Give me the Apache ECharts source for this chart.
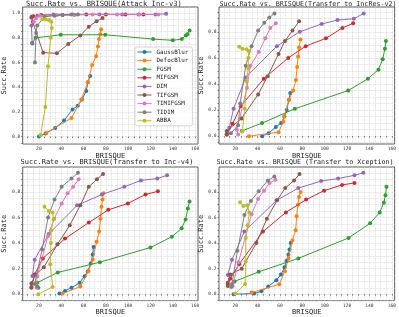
<!DOCTYPE html>
<html><head><meta charset="utf-8">
<script src="https://cdn.jsdelivr.net/npm/echarts@6/dist/echarts.min.js"></script>
<style>html,body{margin:0;padding:0;background:#fff}#c{width:399px;height:317px}</style>
</head><body><div id="c"></div>
<script>
const methods = ['GaussBlur','DefocBlur','FGSM','MIFGSM','DIM','TIFGSM','TIMIFGSM','TIDIM','ABBA'];
const colors = ['#1f77b4','#ff7f0e','#2ca02c','#d62728','#9467bd','#8c564b','#e377c2','#7f7f7f','#bcbd22'];
const titles = ['Succ.Rate vs. BRISQUE(Attack Inc-v3)','Succ.Rate vs. BRISQUE(Transfer to IncRes-v2)','Succ.Rate vs. BRISQUE(Transfer to Inc-v4)','Succ.Rate vs. BRISQUE (Transfer to Xception)'];
const xTickVals = [10,15,20,25,30,35,40,45,50,55,60,65,70,75,80,85,90,95,100,105,110,115,120,125,130,135,140,145,150,155,160];
const xLabelVals = [20,40,60,80,100,120,140,160];
const yTickVals = [-0.05,0,0.05,0.1,0.15,0.2,0.25,0.3,0.35,0.4,0.45,0.5,0.55,0.6,0.65,0.7,0.75,0.8,0.85,0.9,0.95,1.0];
const yLabelVals = [0,0.2,0.4,0.6,0.8,1.0];

// Panel 1: Attack Inc-v3
const v3_GaussBlur = [[20,0.0],[26,0.025],[34.6,0.07],[42.5,0.13],[50.1,0.22],[54.8,0.25],[58.6,0.30],[62.4,0.37],[63.9,0.44],[65.9,0.49]];
const v3_DefocBlur = [[26.7,0.03],[49.2,0.15],[58,0.30],[63.9,0.44],[67.7,0.58],[71.2,0.65],[72.9,0.73],[73.8,0.79],[75,0.83],[75.8,0.87]];
const v3_FGSM = [[14.2,0.755],[17.1,0.80],[39.6,0.825],[79.4,0.825],[122.3,0.79],[139.9,0.78],[148,0.79],[151.6,0.82],[153,0.83],[155,0.86]];
const v3_MIFGSM = [[13.3,0.965],[15,0.975],[22,0.985],[41.3,0.985],[62.4,0.99],[80,0.99],[97.5,0.99],[113.6,0.99]];
const v3_DIM = [[14,0.76],[13.3,0.90],[18.5,0.98],[33,0.99],[50.7,0.99],[74.1,0.99],[94.6,0.99],[109.2,0.99],[124.4,0.99],[134,0.995]];
const v3_TIFGSM = [[13.5,0.97],[14.5,0.93],[23.8,0.68],[36.1,0.675],[46.3,0.75],[57.1,0.82],[64.7,0.89],[71.7,0.935],[77,0.96]];
const v3_TIMIFGSM = [[15.5,0.93],[17.5,0.96],[21,0.98],[36,0.985],[52,0.985],[68,0.99],[90,0.99],[110,0.99],[127,0.99]];
const v3_TIDIM = [[16.5,0.60],[17.5,0.84],[18.5,0.90],[25,0.97],[34,0.98],[41,0.985],[49,0.99],[55,0.99]];
const v3_ABBA = [[21.5,0.01],[25.8,0.24],[28.2,0.57],[30.5,0.80],[31.5,0.88],[31,0.93],[29,0.945],[26,0.95],[23,0.95]];

// Panel 2: Transfer to IncRes-v2
const v2_GaussBlur = [[44,0.0],[49.9,0.023],[56.3,0.07],[61,0.10],[63.9,0.15],[66,0.2],[68,0.28],[69.2,0.33]];
const v2_DefocBlur = [[32.3,0.0],[58.7,0.03],[63,0.11],[63.9,0.15],[68,0.28],[71.8,0.35],[74.2,0.43],[75.3,0.53],[76.2,0.61],[77.1,0.68],[78.3,0.74]];
const v2_FGSM = [[25.9,0.04],[44,0.10],[73.3,0.21],[121,0.35],[138.6,0.44],[148,0.51],[151.8,0.59],[153.8,0.67],[154.7,0.73]];
const v2_MIFGSM = [[12.4,0.013],[17.7,0.096],[25,0.23],[45.5,0.44],[67.4,0.60],[83,0.69],[101.1,0.75],[115.8,0.83],[125.4,0.865]];
const v2_DIM = [[13.3,0.023],[14.7,0.065],[18.5,0.21],[29.4,0.45],[57.2,0.69],[77.7,0.80],[97.3,0.86],[111.4,0.89],[126,0.90],[134.8,0.94]];
const v2_TIFGSM = [[12.4,0.013],[12.4,0.04],[25.6,0.135],[40.5,0.32],[49,0.46],[58.7,0.63],[64.5,0.73],[71.2,0.81],[77.1,0.88]];
const v2_TIMIFGSM = [[22.6,0.013],[21.5,0.05],[30.5,0.37],[33.5,0.54],[41.1,0.645],[46.9,0.75],[51.3,0.83],[56.3,0.865]];
const v2_TIDIM = [[16.2,0.023],[22.6,0.083],[24.4,0.25],[29.4,0.54],[34.6,0.69],[40.5,0.81],[46,0.87],[50.5,0.91],[55.1,0.94]];
const v2_ABBA = [[26.4,0.036],[28.5,0.21],[30.2,0.42],[31.7,0.52],[31.7,0.60],[32.3,0.65],[30.2,0.666],[26.4,0.67],[23.5,0.685]];

// Panel 3: Transfer to Inc-v4
const v4_GaussBlur = [[38.4,0.005],[43.4,0.026],[49.2,0.05],[56.5,0.09],[60.9,0.14],[63.8,0.18],[66.4,0.24],[68.2,0.31],[69,0.37]];
const v4_DefocBlur = [[41.3,0.005],[57.1,0.06],[64.4,0.18],[68.2,0.27],[71.7,0.41],[74,0.49],[75.2,0.59],[76.1,0.685],[77,0.74],[77.8,0.79]];
const v4_FGSM = [[19.5,0.05],[18.5,0.09],[36.9,0.17],[74.6,0.25],[119.9,0.365],[139.1,0.45],[147.9,0.515],[151.4,0.585],[153.4,0.67],[154.9,0.725]];
const v4_MIFGSM = [[13.3,0.05],[16.2,0.155],[23.5,0.28],[43.4,0.435],[64.7,0.56],[82.2,0.66],[99.7,0.71],[115.5,0.78],[126.6,0.805]];
const v4_DIM = [[14.2,0.143],[16.2,0.27],[28.8,0.47],[54.2,0.695],[76.4,0.78],[96.5,0.84],[111.4,0.89],[126,0.905],[134.8,0.93]];
const v4_TIFGSM = [[13.3,0.057],[13.3,0.085],[17.1,0.155],[24.4,0.21],[36.6,0.39],[47.7,0.54],[57.1,0.695],[64.7,0.84],[72,0.90],[77.5,0.94]];
const v4_TIMIFGSM = [[18,0.05],[18.5,0.14],[28.2,0.456],[33.7,0.59],[40.4,0.71],[45.7,0.79],[50.7,0.84],[55.6,0.90]];
const v4_TIDIM = [[18.5,0.06],[16.2,0.08],[22.9,0.35],[28.2,0.60],[34,0.74],[40.4,0.84],[49.2,0.905],[55,0.95]];
const v4_ABBA = [[19.4,0.0],[32.3,0.057],[30.2,0.235],[30.8,0.40],[31.1,0.50],[33.1,0.586],[32.3,0.64],[28.8,0.65],[25,0.685]];

// Panel 4: Transfer to Xception
const xc_GaussBlur = [[18.5,0.0],[36.9,0.005],[43.4,0.023],[49.5,0.06],[56.8,0.11],[60.9,0.155],[64.1,0.21],[65.8,0.26],[67.6,0.31],[68.5,0.35],[69.6,0.40]];
const xc_DefocBlur = [[34.6,0.013],[59.4,0.078],[64.4,0.18],[67.6,0.28],[71.1,0.42],[74,0.50],[74.9,0.61],[76.1,0.70],[77,0.76],[78.4,0.80]];
const xc_FGSM = [[19.4,0.10],[41,0.175],[76.4,0.28],[121.3,0.44],[140.6,0.555],[149.1,0.64],[152.8,0.715],[154.3,0.775],[155.2,0.84]];
const xc_MIFGSM = [[13.3,0.073],[15.5,0.12],[23.5,0.235],[44.8,0.49],[65.3,0.64],[83.4,0.74],[99.4,0.81],[115.5,0.855],[126.6,0.87]];
const xc_DIM = [[13.3,0.15],[17.1,0.27],[28.2,0.49],[57.1,0.735],[76.4,0.83],[96.8,0.885],[112,0.905],[126.6,0.93],[134.5,0.95]];
const xc_TIFGSM = [[13.3,0.065],[13.3,0.09],[15.6,0.155],[25.8,0.20],[38.9,0.40],[48.3,0.59],[57.4,0.735],[64.7,0.83],[72.6,0.89],[77.5,0.94]];
const xc_TIMIFGSM = [[17.7,0.065],[22.9,0.25],[34.6,0.625],[40.4,0.745],[45.7,0.81],[50.7,0.87],[56,0.895]];
const xc_TIDIM = [[16.5,0.057],[17.1,0.08],[22,0.34],[28.2,0.62],[34,0.73],[41,0.805],[49.2,0.89],[55,0.92]];
const xc_ABBA = [[20,0.005],[28.8,0.08],[29.4,0.255],[29.4,0.44],[31.1,0.54],[32.6,0.64],[30.8,0.695],[27.3,0.69],[24.4,0.72]];

const panels = [
  [v3_GaussBlur,v3_DefocBlur,v3_FGSM,v3_MIFGSM,v3_DIM,v3_TIFGSM,v3_TIMIFGSM,v3_TIDIM,v3_ABBA],
  [v2_GaussBlur,v2_DefocBlur,v2_FGSM,v2_MIFGSM,v2_DIM,v2_TIFGSM,v2_TIMIFGSM,v2_TIDIM,v2_ABBA],
  [v4_GaussBlur,v4_DefocBlur,v4_FGSM,v4_MIFGSM,v4_DIM,v4_TIFGSM,v4_TIMIFGSM,v4_TIDIM,v4_ABBA],
  [xc_GaussBlur,xc_DefocBlur,xc_FGSM,xc_MIFGSM,xc_DIM,xc_TIFGSM,xc_TIMIFGSM,xc_TIDIM,xc_ABBA]
];

const FONT = "'DejaVu Sans Mono', monospace";
const grids = [
  {left:19, top:7, width:179, height:137},
  {left:219, top:7, width:179, height:137},
  {left:19, top:167, width:179, height:135},
  {left:219, top:167, width:179, height:135}
];
const yRanges = [[-0.06,1.05],[-0.06,0.99],[-0.05,0.995],[-0.05,0.995]];
const titlePos = [[104,4,7.2],[308,4,6.7],[107,162,7],[305,162,6.7]];

const option = {
  animation:false,
  grid: grids.map(g => Object.assign({show:true, borderColor:'#333', borderWidth:0.8, backgroundColor:'#fff'}, g)),
  xAxis: grids.map((g,i) => ({
    type:'value', gridIndex:i, min:5.5, max:162.5,
    name:'BRISQUE', nameLocation:'middle', nameGap:7,
    nameTextStyle:{fontFamily:FONT, fontSize:7, color:'#222'},
    axisLine:{show:false},
    axisTick:{show:true, length:1.5, customValues:xTickVals, lineStyle:{color:'#333', width:0.6}},
    axisLabel:{customValues:xLabelVals, fontFamily:FONT, fontSize:4.6, color:'#333', margin:2.5},
    splitLine:{show:true, lineStyle:{color:'#cfcfcf', type:'dotted', width:0.7}}
  })),
  yAxis: grids.map((g,i) => ({
    type:'value', gridIndex:i, min:yRanges[i][0], max:yRanges[i][1],
    name:'Succ.Rate', nameLocation:'middle', nameGap:10.5,
    nameTextStyle:{fontFamily:FONT, fontSize:7, color:'#222'},
    axisLine:{show:false},
    axisTick:{show:true, length:1.5, customValues:yTickVals, lineStyle:{color:'#333', width:0.6}},
    axisLabel:{customValues:yLabelVals, fontFamily:FONT, fontSize:4.6, color:'#333', margin:2.5, formatter:v => v.toFixed(1)},
    splitLine:{show:true, lineStyle:{color:'#cfcfcf', type:'dotted', width:0.7}}
  })),
  legend:{
    show:true, orient:'vertical', left:135, top:47,
    data:methods,
    itemWidth:14, itemHeight:5, itemGap:2.6,
    lineStyle:{width:1},
    textStyle:{fontFamily:FONT, fontSize:5.9, color:'#222'},
    borderColor:'#cccccc', borderWidth:0.8, borderRadius:2,
    padding:[2,4,2,2], backgroundColor:'rgba(255,255,255,0.85)'
  },
  graphic: titlePos.map((p,i) => ({
    type:'text', x:p[0], y:p[1], z:100,
    style:{text:titles[i], align:'center', verticalAlign:'middle', fontFamily:FONT, fontSize:p[2], fill:'#222'}
  })),
  series: []
};
panels.forEach((pd, pi) => {
  pd.forEach((d, mi) => {
    option.series.push({
      type:'line', name:methods[mi], xAxisIndex:pi, yAxisIndex:pi,
      data:d, symbol:'circle', symbolSize:4, showSymbol:true,
      lineStyle:{width:1, color:colors[mi]}, itemStyle:{color:colors[mi]},
      emphasis:{disabled:true}, z:2+mi
    });
  });
});
const chart = echarts.init(document.getElementById('c'), null, {renderer:'canvas'});
chart.setOption(option);
</script></body></html>
